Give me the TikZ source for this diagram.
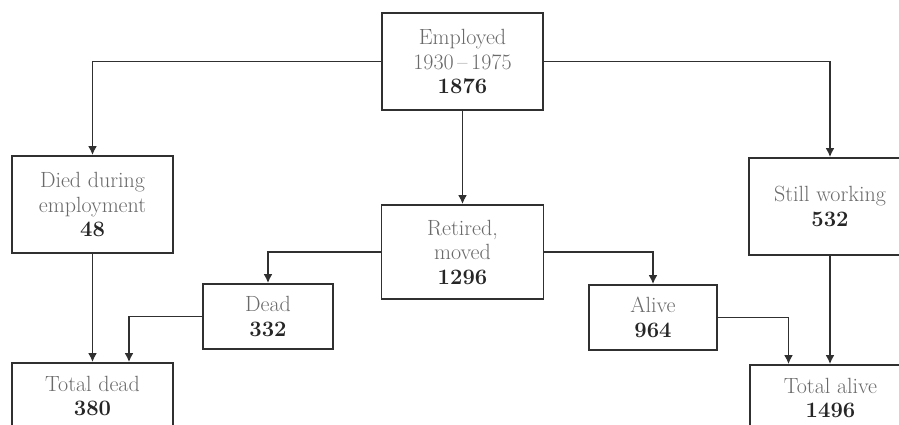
\documentclass[tikz,border=0pt]{standalone}
\usetikzlibrary{arrows.meta}
\definecolor{wordgray}{HTML}{6A6A6A}
\definecolor{numgray}{HTML}{262626}
\definecolor{linegray}{HTML}{303030}
\newcommand{\numb}[1]{{\color{numgray}\bfseries #1}}
\begin{document}
\begin{tikzpicture}[x=1pt,y=-1pt,
  box/.style={draw=linegray, line width=1.8pt, rectangle, align=center,
    inner sep=0pt, text=wordgray, font=\fontsize{22}{24.5}\selectfont},
  conn/.style={draw=linegray, line width=1.8pt, -{Latex[length=9pt,width=9pt]}}]
\clip (0,0) rectangle (899,425);
\fill[white] (0,0) rectangle (899,425);
\node[box, minimum width=161pt, minimum height=97pt] (emp) at (462.5,61.5) {Employed\\1930\,--\,1975\\\numb{1876}};
\node[box, minimum width=161pt, minimum height=97pt] (died) at (92.5,204.5) {Died during\\employment\\\numb{48}};
\node[box, minimum width=162pt, minimum height=97pt] (still) at (830,206.5) {Still working\\\numb{532}};
\node[box, minimum width=162pt, minimum height=94pt] (ret) at (462.5,252) {Retired,\\moved\\\numb{1296}};
\node[box, minimum width=130pt, minimum height=65pt] (dead) at (268,316.5) {Dead\\\numb{332}};
\node[box, minimum width=128pt, minimum height=65pt] (alive) at (653,317.5) {Alive\\\numb{964}};
\node[box, minimum width=161pt, minimum height=66pt] (tdead) at (92.5,396) {Total dead\\\numb{380}};
\node[box, minimum width=161pt, minimum height=66pt] (talive) at (830.5,398) {Total alive\\\numb{1496}};
\draw[conn] (emp.west) -| (died.north);
\draw[conn] (emp.east) -| (still.north);
\draw[conn] (emp.south) -- (ret.north);
\draw[conn] (ret.west) -| (dead.north);
\draw[conn] (ret.east) -| (alive.north);
\draw[conn] (died.south) -- (tdead.north);
\draw[conn] (dead.west) -| ([xshift=36.5pt]tdead.north);
\draw[conn] (alive.east) -| ([xshift=-42pt]talive.north);
\draw[conn] (still.south) -- ([xshift=-0.5pt]talive.north);
\end{tikzpicture}
\end{document}
